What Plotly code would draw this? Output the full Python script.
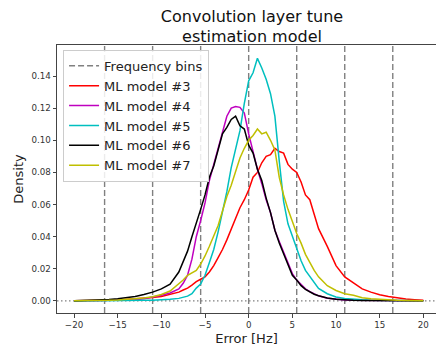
import plotly.graph_objects as go

# Shared error grid (Hz)
error_hz = [-20, -19, -18, -17, -16, -15, -14, -13, -12, -11, -10, -9, -8,
            -7.5, -7, -6.5, -6, -5.5, -5, -4.5, -4, -3.5, -3, -2.5, -2, -1.5, -1, -0.5,
            0, 0.5, 1, 1.5, 2, 2.5, 3, 3.5, 4, 4.5, 5, 5.5, 6, 6.5, 7, 7.5, 8,
            9, 10, 11, 12, 13, 14, 15, 16, 17, 18, 19, 20]

model3 = [0.0001, 0.0001, 0.0002, 0.0003, 0.0004, 0.0006, 0.0009, 0.0012, 0.0016, 0.0021, 0.0028, 0.0040, 0.0055,
          0.0068, 0.0080, 0.0098, 0.0120, 0.0135, 0.0150, 0.0180, 0.0220, 0.0270, 0.0320, 0.0380, 0.0450, 0.0520, 0.0580, 0.0630,
          0.0690, 0.0770, 0.0800, 0.0860, 0.0900, 0.0910, 0.0950, 0.0930, 0.0920, 0.0850, 0.0820, 0.0800, 0.0740, 0.0660, 0.0630, 0.0540, 0.0450,
          0.0340, 0.0220, 0.0150, 0.0110, 0.0075, 0.0055, 0.0038, 0.0028, 0.0019, 0.0012, 0.0008, 0.0005]

model4 = [0.0000, 0.0001, 0.0001, 0.0002, 0.0002, 0.0003, 0.0005, 0.0008, 0.0013, 0.0022, 0.0035, 0.0050, 0.0075,
          0.0110, 0.0160, 0.0260, 0.0400, 0.0500, 0.0610, 0.0750, 0.0850, 0.0960, 0.1060, 0.1150, 0.1200, 0.1210, 0.1205, 0.1170,
          0.1040, 0.0920, 0.0820, 0.0730, 0.0630, 0.0550, 0.0440, 0.0370, 0.0300, 0.0230, 0.0170, 0.0130, 0.0100, 0.0075, 0.0058, 0.0045, 0.0032,
          0.0017, 0.0010, 0.0006, 0.0004, 0.0003, 0.0002, 0.0001, 0.0001, 0.0001, 0.0001, 0.0001, 0.0001]

model5 = [0.0000, 0.0000, 0.0001, 0.0001, 0.0001, 0.0002, 0.0002, 0.0003, 0.0004, 0.0005, 0.0007, 0.0010, 0.0016,
          0.0022, 0.0030, 0.0045, 0.0080, 0.0105, 0.0160, 0.0240, 0.0320, 0.0430, 0.0550, 0.0680, 0.0830, 0.0940, 0.1060, 0.1230,
          0.1370, 0.1420, 0.1510, 0.1450, 0.1380, 0.1290, 0.1150, 0.0870, 0.0620, 0.0480, 0.0400, 0.0330, 0.0250, 0.0190, 0.0150, 0.0110, 0.0078,
          0.0045, 0.0025, 0.0015, 0.0010, 0.0007, 0.0005, 0.0004, 0.0003, 0.0002, 0.0002, 0.0001, 0.0001]

model6 = [0.0002, 0.0003, 0.0004, 0.0006, 0.0009, 0.0013, 0.0019, 0.0028, 0.0040, 0.0055, 0.0075, 0.0105, 0.0180,
          0.0240, 0.0310, 0.0400, 0.0480, 0.0570, 0.0660, 0.0770, 0.0840, 0.0940, 0.1040, 0.1080, 0.1130, 0.1150, 0.1090, 0.1070,
          0.0970, 0.0920, 0.0820, 0.0750, 0.0640, 0.0550, 0.0440, 0.0360, 0.0290, 0.0220, 0.0160, 0.0130, 0.0095, 0.0072, 0.0055, 0.0042, 0.0032,
          0.0018, 0.0010, 0.0006, 0.0004, 0.0003, 0.0002, 0.0002, 0.0001, 0.0001, 0.0001, 0.0001, 0.0001]

model7 = [0.0001, 0.0001, 0.0002, 0.0003, 0.0004, 0.0006, 0.0009, 0.0013, 0.0018, 0.0026, 0.0040, 0.0062, 0.0105,
          0.0130, 0.0160, 0.0175, 0.0190, 0.0230, 0.0280, 0.0340, 0.0400, 0.0470, 0.0560, 0.0650, 0.0720, 0.0800, 0.0890, 0.0950,
          0.1000, 0.1030, 0.1070, 0.1040, 0.1050, 0.1000, 0.0940, 0.0770, 0.0660, 0.0570, 0.0490, 0.0420, 0.0360, 0.0290, 0.0240, 0.0190, 0.0150,
          0.0095, 0.0065, 0.0045, 0.0035, 0.0020, 0.0013, 0.0009, 0.0006, 0.0004, 0.0003, 0.0002, 0.0001]

bin_edges = [-16.5, -11, -5.5, 0, 5.5, 11, 16.5]

x_ticks = [-20, -15, -10, -5, 0, 5, 10, 15, 20]
y_ticks = [0.00, 0.02, 0.04, 0.06, 0.08, 0.10, 0.12, 0.14]
y_tick_labels = ["0.00", "0.02", "0.04", "0.06", "0.08", "0.10", "0.12", "0.14"]
x_tick_labels = ["\u221220", "\u221215", "\u221210", "\u22125", "0", "5", "10", "15", "20"]

x_range = [-21.95, 21.45]
y_range = [-0.0075, 0.1593]

series = [
    ("ML model #3", model3, "#ff0000"),
    ("ML model #4", model4, "#bf00bf"),
    ("ML model #5", model5, "#00bfbf"),
    ("ML model #6", model6, "#000000"),
    ("ML model #7", model7, "#bfbf00"),
]

fig = go.Figure()

# Frequency bins: vertical dashed lines spanning the axis
bx, by = [], []
for b in bin_edges:
    bx += [b, b, None]
    by += [y_range[0], y_range[1], None]
fig.add_trace(go.Scatter(x=bx, y=by, mode="lines", name="Frequency bins",
                         line=dict(color="#808080", width=1.4, dash="6px,3px"),
                         hoverinfo="skip"))

for name, vals, col in series:
    fig.add_trace(go.Scatter(x=error_hz, y=vals, mode="lines", name=name,
                             line=dict(color=col, width=1.5)))

# zero dotted line
fig.add_shape(type="line", xref="paper", x0=0, x1=1, yref="y", y0=0, y1=0,
              line=dict(color="#808080", width=1.2, dash="1.5px,2.5px"), layer="below")

fig.update_layout(
    width=436, height=348,
    margin=dict(l=57, r=0, t=45, b=35),
    paper_bgcolor="white", plot_bgcolor="white",
    font=dict(family="DejaVu Sans", color="#222222"),
    title=dict(text="Convolution layer tune<br>estimation model",
               x=252 / 436, xanchor="center", y=0.938, yanchor="top",
               font=dict(size=16, color="#111111")),
    showlegend=True,
    legend=dict(x=0.016, y=0.982, xanchor="left", yanchor="top",
                bgcolor="rgba(255,255,255,0.85)", bordercolor="#cccccc", borderwidth=1,
                font=dict(size=13, color="#222222"), itemwidth=30,
                tracegroupgap=0),
    xaxis=dict(range=x_range, tickmode="array", tickvals=x_ticks, ticktext=x_tick_labels,
               showgrid=False, zeroline=False, showline=True, mirror=True,
               linecolor="#444444", linewidth=1, ticks="outside", ticklen=3.5,
               tickcolor="#444444", tickfont=dict(size=8.7, color="#333333"),
               title=dict(text="Error [Hz]", font=dict(size=13, color="#222222"), standoff=4)),
    yaxis=dict(range=y_range, tickmode="array", tickvals=y_ticks, ticktext=y_tick_labels,
               showgrid=False, zeroline=False, showline=True, mirror=False,
               linecolor="#444444", linewidth=1, ticks="outside", ticklen=3.5,
               tickcolor="#444444", tickfont=dict(size=8.7, color="#333333"),
               title=dict(text="Density", font=dict(size=13, color="#222222"), standoff=4)),
)

fig.write_html("out.html")
